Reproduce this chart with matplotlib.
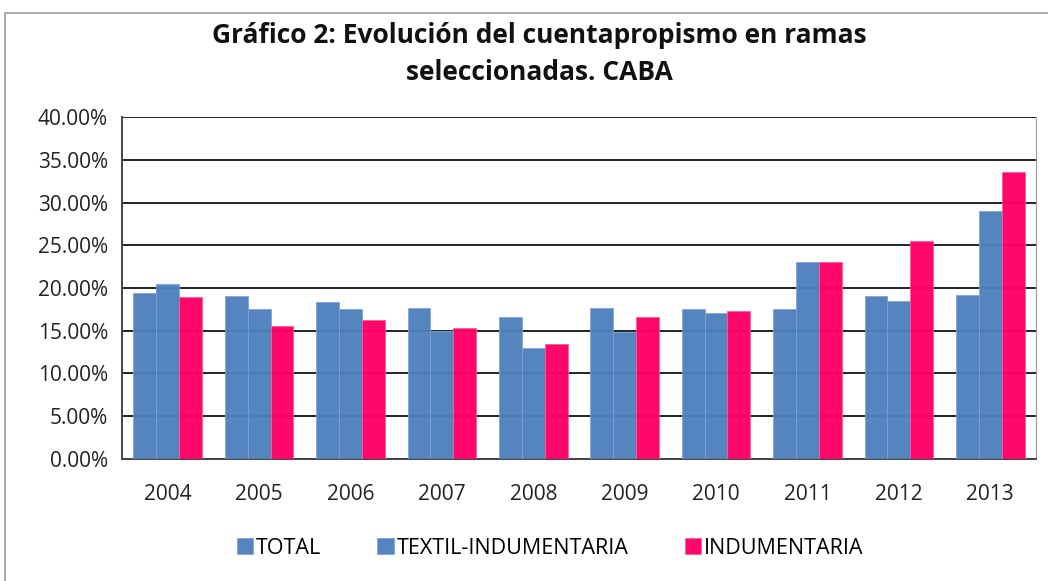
import numpy as np
import matplotlib.pyplot as plt
from matplotlib.patches import Rectangle
from matplotlib.ticker import FuncFormatter

plt.rcParams['font.family'] = ['Open Sans', 'DejaVu Sans']

years = ['2004', '2005', '2006', '2007', '2008', '2009', '2010', '2011', '2012', '2013']
total = [19.4, 19.1, 18.4, 17.6, 16.6, 17.6, 17.5, 17.5, 19.1, 19.2]
textil = [20.5, 17.5, 17.5, 14.9, 13.0, 14.8, 17.1, 23.0, 18.5, 29.0]
indumentaria = [18.9, 15.5, 16.2, 15.3, 13.4, 16.6, 17.3, 23.1, 25.5, 33.6]

blue = '#4F81BD'
pink = '#FF0066'

fig = plt.figure(figsize=(10.48, 5.81), dpi=100)
ax = fig.add_axes([0.1164, 0.2108, 0.8721, 0.587])

x = np.arange(len(years))
w = 0.25
ax.bar(x - w, total, w, color=blue, edgecolor='#7fa3d0', linewidth=0.6, label='TOTAL', zorder=3, alpha=0.97)
ax.bar(x, textil, w, color=blue, edgecolor='#7fa3d0', linewidth=0.6, label='TEXTIL-INDUMENTARIA', zorder=3, alpha=0.97)
ax.bar(x + w, indumentaria, w, color=pink, edgecolor='#ff5a9a', linewidth=0.6, label='INDUMENTARIA', zorder=3, alpha=0.97)

ax.set_xlim(-0.5, len(years) - 0.5)
ax.set_ylim(0, 40)
ax.set_yticks(np.arange(0, 41, 5))
ax.yaxis.set_major_formatter(FuncFormatter(lambda v, p: f'{v:.2f}%'))
ax.set_xticks(x)
ax.set_xticklabels(years)
ax.tick_params(axis='both', length=0, labelsize=15, colors='#222222')
ax.tick_params(axis='x', pad=18)
ax.tick_params(axis='y', pad=10)
ax.yaxis.grid(True, color='#222222', linewidth=1.4, zorder=1)
ax.set_axisbelow(True)
for s in ['left', 'bottom']:
    ax.spines[s].set_color('#444444')
    ax.spines[s].set_linewidth(1.4)
ax.spines['right'].set_color('#999999')
ax.spines['top'].set_visible(False)

fig.text(0.515, 1 - 54 / 581, 'Gráfico 2: Evolución del cuentapropismo en ramas\nseleccionadas. CABA',
         ha='center', va='center', fontsize=19, fontweight='bold', linespacing=1.45, color='#111111')

fig.legend(loc='center', bbox_to_anchor=(0.525, 1 - 548 / 581), ncol=3, frameon=False,
           fontsize=15.5, handlelength=0.75, handleheight=0.75, handletextpad=0.15, columnspacing=2.6)

fig.patches.append(Rectangle((5 / 1048, -0.1), 1.2, 1 - 13 / 581 + 0.1, transform=fig.transFigure,
                             fill=False, edgecolor='#999999', linewidth=1.2))

fig.savefig('out.png', dpi=100)
